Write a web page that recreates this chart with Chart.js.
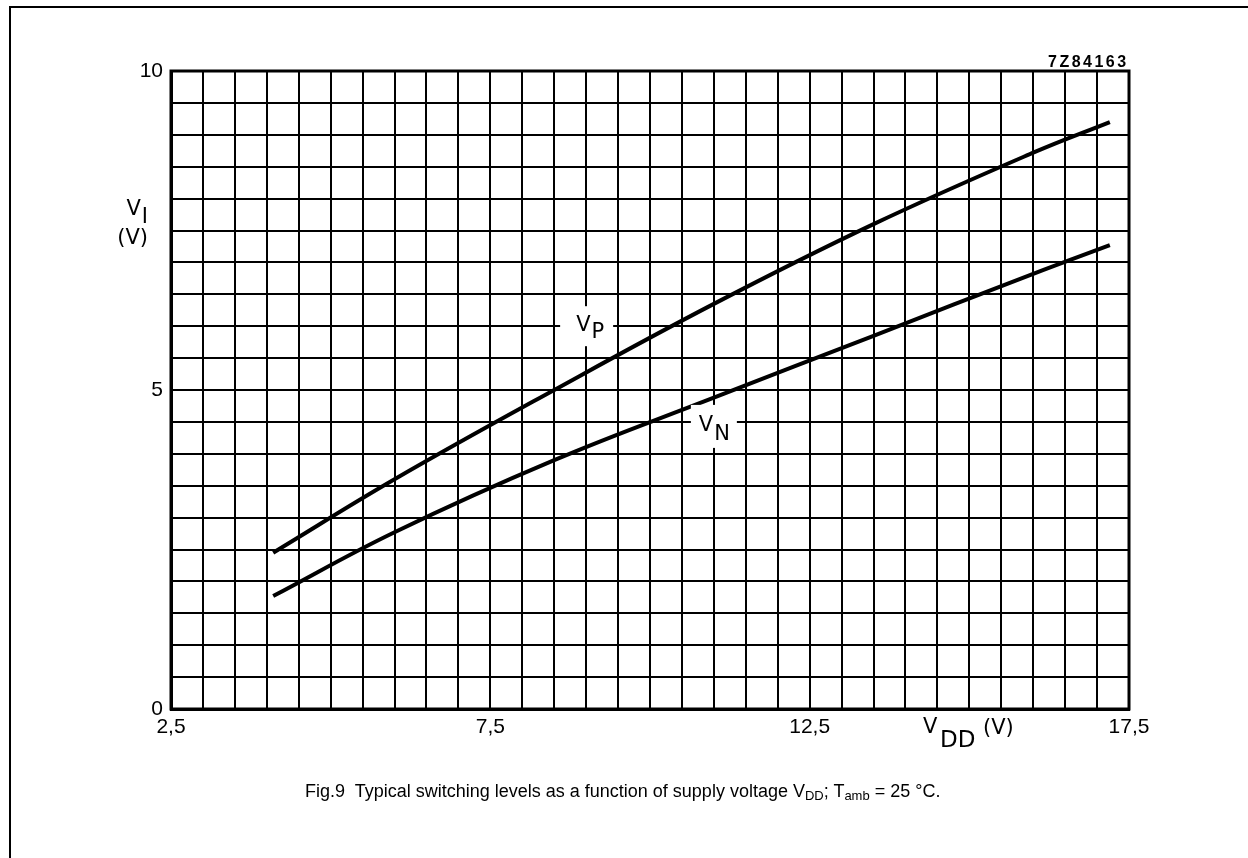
<!DOCTYPE html>
<html>
<head>
<meta charset="utf-8">
<script src="https://cdn.jsdelivr.net/npm/chart.js@4.4.1/dist/chart.umd.min.js"></script>
<style>
  html, body { margin: 0; padding: 0; background: #fff; }
  body { width: 1248px; height: 858px; position: relative; overflow: hidden; font-family: "Liberation Sans", Arial, sans-serif; }
  #frame { position: absolute; left: 9px; top: 6px; width: 1300px; height: 900px; border-top: 2px solid #000; border-left: 2px solid #000; }
  #wrap { position: absolute; left: 0; top: 0; width: 1248px; height: 858px; }
  #caption { position: absolute; left: 305px; top: 781px; font-size: 18px; color: #000; white-space: pre; line-height: 20px; }
  #caption sub { font-size: 13px; vertical-align: -3px; line-height: 0; }
</style>
</head>
<body>
<div id="frame"></div>
<div id="wrap"><canvas id="chart" width="1248" height="858"></canvas></div>
<div id="caption">Fig.9  Typical switching levels as a function of supply voltage V<sub>DD</sub>; T<sub>amb</sub> = 25 °C.</div>
<script>
// V_P curve (supply voltage V_DD -> switching level)
const vddP = [4.1, 6.0, 8.5, 11.0, 13.5, 16.0, 17.2];
const vP   = [2.45, 3.6, 5.0, 6.35, 7.6, 8.72, 9.2];

// V_N curve
const vddN = [4.1, 6.0, 8.5, 11.0, 13.5, 16.0, 17.2];
const vN   = [1.77, 2.77, 3.9, 4.88, 5.85, 6.82, 7.27];

// labelled ticks (everything else only gets a grid line)
const xTickValues = [2.5, 7.5, 12.5, 17.5];
const xTickLabels = ['2,5', '7,5', '12,5', '17,5'];
const yTickValues = [0, 5, 10];
const yTickLabels = ['0', '5', '10'];

const toPoints = (xs, ys) => xs.map((x, i) => ({ x: x, y: ys[i] }));
const pickLabel = (values, labels, v) => {
    const i = values.findIndex(t => Math.abs(t - v) < 1e-6);
    return i >= 0 ? labels[i] : '';
};

const LETTER_FONT = '21px "DejaVu Sans", sans-serif';

// draws "V" with a subscript, left aligned at (x, baseline)
const drawSub = (ctx, main, sub, x, y, drop) => {
    ctx.font = LETTER_FONT;
    ctx.textAlign = 'left';
    ctx.textBaseline = 'alphabetic';
    ctx.fillText(main, x, y);
    const w = ctx.measureText(main).width;
    ctx.fillText(sub, x + w + 1, y + drop);
    return w + 1 + ctx.measureText(sub).width;
};

// curve labels, placed in data coordinates
const curveLabels = [
    { x: 9.0, y: 6.0, sub: 'P', dx: -10, dy: 5, drop: 7, box: [-26, -20, 53, 40] },
    { x: 11.0, y: 4.5, sub: 'N', dx: -15, dy: 9, drop: 9, box: [-23, -17, 46, 43] }
];

const annotations = {
    id: 'annotations',
    afterDatasetsDraw(chart) {
        const { ctx, chartArea: a, scales } = chart;
        ctx.save();

        // heavy frame round the grid
        ctx.lineWidth = 3;
        ctx.strokeStyle = '#000';
        ctx.strokeRect(a.left, a.top, a.right - a.left, a.bottom - a.top);

        curveLabels.forEach(l => {
            const cx = scales.x.getPixelForValue(l.x);
            const cy = scales.y.getPixelForValue(l.y);
            ctx.fillStyle = '#fff';
            ctx.fillRect(cx + l.box[0], cy + l.box[1], l.box[2], l.box[3]);
            ctx.fillStyle = '#000';
            drawSub(ctx, 'V', l.sub, cx + l.dx, cy + l.dy, l.drop);
        });

        // drawing number
        ctx.fillStyle = '#000';
        ctx.font = 'bold 16px "Liberation Sans", Arial, sans-serif';
        ctx.letterSpacing = '2.5px';
        ctx.textAlign = 'left';
        ctx.fillText('7Z84163', a.right - 81, a.top - 4);
        ctx.letterSpacing = '0px';

        // x axis title
        ctx.font = LETTER_FONT;
        ctx.fillText('V', a.right - 206, a.bottom + 24);
        ctx.font = '23px "DejaVu Sans", sans-serif';
        ctx.fillText('DD', a.right - 189, a.bottom + 38);
        ctx.font = LETTER_FONT;
        ctx.fillText('(V)', a.right - 146, a.bottom + 25);

        // y axis title
        const vw = ctx.measureText('V').width;
        const iw = ctx.measureText('I').width;
        drawSub(ctx, 'V', 'I', a.left - 24 - vw - iw, 215, 8);
        ctx.textAlign = 'right';
        ctx.fillText('(V)', a.left - 23, 244);

        ctx.restore();
    }
};

const ctx = document.getElementById('chart').getContext('2d');

const curveStyle = {
    borderColor: '#000',
    borderWidth: 4,
    pointRadius: 0,
    showLine: true,
    fill: false,
    tension: 0.4,
    borderCapStyle: 'butt'
};

new Chart(ctx, {
    type: 'scatter',
    data: {
        datasets: [
            Object.assign({ label: 'VP', data: toPoints(vddP, vP) }, curveStyle),
            Object.assign({ label: 'VN', data: toPoints(vddN, vN) }, curveStyle)
        ]
    },
    options: {
        responsive: false,
        animation: false,
        events: [],
        layout: { padding: { left: 0, top: 71, right: 119, bottom: 0 } },
        plugins: {
            legend: { display: false },
            tooltip: { enabled: false }
        },
        scales: {
            x: {
                type: 'linear',
                min: 2.5,
                max: 17.5,
                afterFit(scale) { scale.height = 149; },
                grid: { color: '#000', lineWidth: 2, drawTicks: false },
                border: { color: '#000', width: 3 },
                ticks: {
                    stepSize: 0.5,
                    maxTicksLimit: 100,
                    autoSkip: false,
                    maxRotation: 0,
                    padding: 6,
                    color: '#000',
                    font: { family: '"Liberation Sans", Arial, sans-serif', size: 21 },
                    callback: v => pickLabel(xTickValues, xTickLabels, v)
                }
            },
            y: {
                type: 'linear',
                min: 0,
                max: 10,
                afterFit(scale) { scale.width = 171; },
                grid: { color: '#000', lineWidth: 2, drawTicks: false },
                border: { color: '#000', width: 3 },
                ticks: {
                    stepSize: 0.5,
                    maxTicksLimit: 100,
                    autoSkip: false,
                    padding: 8,
                    color: '#000',
                    font: { family: '"Liberation Sans", Arial, sans-serif', size: 21 },
                    callback: v => pickLabel(yTickValues, yTickLabels, v)
                }
            }
        }
    },
    plugins: [annotations]
});
</script>
</body>
</html>
